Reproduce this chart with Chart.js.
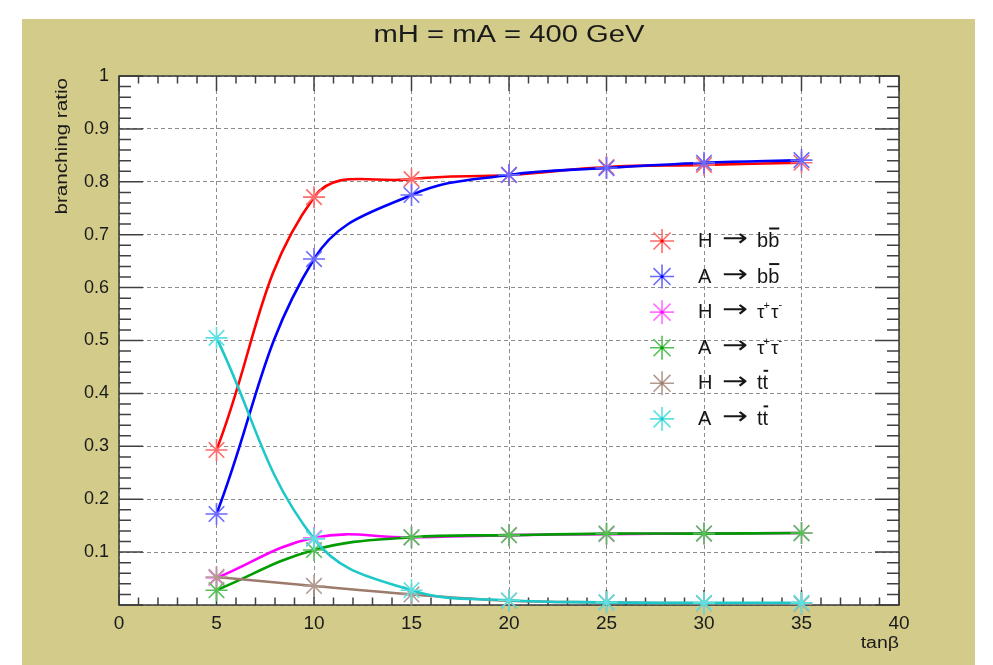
<!DOCTYPE html>
<html><head><meta charset="utf-8">
<script src="https://cdn.jsdelivr.net/npm/chart.js@4.4.1/dist/chart.umd.min.js"></script>
<style>html,body{margin:0;padding:0;background:#fff;overflow:hidden}#wrap{position:relative;width:993px;height:665px}</style>
</head><body><div id="wrap"><canvas id="c" width="993" height="665"></canvas></div>
<script>
// ---- data ----
const tanBeta   = [5, 10, 15, 20, 25, 30, 35];
const H_bb      = [0.293, 0.771, 0.805, 0.813, 0.828, 0.832, 0.836];
const A_bb      = [0.172, 0.654, 0.775, 0.813, 0.826, 0.836, 0.841];
const H_tautau  = [0.051, 0.127, 0.128, 0.132, 0.134, 0.135, 0.136];
const A_tautau  = [0.028, 0.104, 0.128, 0.132, 0.135, 0.135, 0.136];
const H_tt      = [0.053, 0.036, 0.020, 0.008, 0.005, 0.003, 0.002];
const A_tt      = [0.505, 0.125, 0.028, 0.009, 0.005, 0.004, 0.004];
const xTickValues = [0, 5, 10, 15, 20, 25, 30, 35, 40];
const xTickLabels = ['0', '5', '10', '15', '20', '25', '30', '35', '40'];
const yTickValues = [0, 0.1, 0.2, 0.3, 0.4, 0.5, 0.6, 0.7, 0.8, 0.9, 1];
const yTickLabels = ['', '0.1', '0.2', '0.3', '0.4', '0.5', '0.6', '0.7', '0.8', '0.9', '1'];
const seriesLabels = ['H \u2192 bb\u0304', 'A \u2192 bb\u0304', 'H \u2192 \u03C4\u207A\u03C4\u207B', 'A \u2192 \u03C4\u207A\u03C4\u207B', 'H \u2192 tt\u0304', 'A \u2192 tt\u0304'];
const seriesValues = [H_bb, A_bb, H_tautau, A_tautau, H_tt, A_tt];
const titleText = 'mH = mA = 400 GeV';
const xTitle = 'tan\u03B2';
const yTitle = 'branching ratio';

// ---- style ----
const FONT = '"Liberation Sans", Arial, Helvetica, sans-serif';
const lineColors = ['#ff0000', '#0000ff', '#ff00ff', '#009c00', '#9c7a6c', '#1fc8c8'];
const markColors = ['#ff6a6a', '#6a6aff', '#ff70ff', '#55c055', '#b39a90', '#5ee0e0'];
const OLIVE = '#d2cb8a';

function stretchText(ctx, str, x, y, size, sx, align) {
  ctx.save();
  ctx.font = size + 'px ' + FONT;
  const w = ctx.measureText(str).width * sx;
  const x0 = align === 'center' ? x - w / 2 : (align === 'right' ? x - w : x);
  ctx.translate(x0, y);
  ctx.scale(sx, 1);
  ctx.textAlign = 'left';
  ctx.textBaseline = 'alphabetic';
  ctx.fillText(str, 0, 0);
  ctx.restore();
}

function drawStar(ctx, x, y, r, color, lw) {
  ctx.save();
  ctx.strokeStyle = color;
  ctx.lineWidth = lw;
  ctx.beginPath();
  for (let k = 0; k < 4; k++) {
    const a = k * Math.PI / 4;
    ctx.moveTo(x - Math.cos(a) * r, y - Math.sin(a) * r);
    ctx.lineTo(x + Math.cos(a) * r, y + Math.sin(a) * r);
  }
  ctx.stroke();
  ctx.restore();
}

// draw a legend label such as "H → bb̄"
function drawLegendLabel(ctx, label, x, base) {
  const parts = label.split(' \u2192 ');
  const head = parts[0], prod = parts[1];
  ctx.save();
  ctx.fillStyle = '#161616';
  ctx.strokeStyle = '#161616';
  ctx.textAlign = 'left';
  ctx.textBaseline = 'alphabetic';
  ctx.font = '20px ' + FONT;
  ctx.fillText(head, x, base);
  // arrow
  ctx.save();
  ctx.font = '24px "DejaVu Sans", ' + FONT;
  ctx.textBaseline = 'middle';
  const aw = ctx.measureText('\u2192').width;
  ctx.translate(x + 24, base - 7);
  ctx.scale(26 / aw, 1);
  ctx.fillText('\u2192', 0, 0);
  ctx.restore();
  let px = x + 59;
  if (prod.indexOf('\u0304') >= 0) {
    const chars = prod.replace('\u0304', '');
    const c1 = chars[0], c2 = chars[1];
    ctx.font = '20px ' + FONT;
    const w1 = ctx.measureText(c1).width;
    const w2 = ctx.measureText(c2).width;
    ctx.fillText(c1, px, base);
    ctx.fillText(c2, px + w1, base);
    ctx.lineWidth = 2;
    ctx.beginPath();
    ctx.moveTo(px + w1 + 1, base - 18.5);
    ctx.lineTo(px + w1 + w2, base - 18.5);
    ctx.stroke();
  } else {
    // tau+ tau-
    ctx.font = '19px ' + FONT;
    const tw = ctx.measureText('\u03C4').width;
    ctx.fillText('\u03C4', px, base);
    ctx.font = '11px ' + FONT;
    ctx.fillText('+', px + tw - 1, base - 9);
    const pw = ctx.measureText('+').width;
    ctx.font = '19px ' + FONT;
    const p2 = px + tw + pw;
    ctx.fillText('\u03C4', p2, base);
    ctx.font = '11px ' + FONT;
    ctx.fillText('-', p2 + tw, base - 10);
  }
  ctx.restore();
}

const rootPlugin = {
  id: 'rootStyle',
  beforeDraw(chart) {
    const ctx = chart.ctx, W = chart.width, H = chart.height;
    const a = chart.chartArea;
    ctx.save();
    ctx.fillStyle = '#ffffff';
    ctx.fillRect(0, 0, W, H);
    ctx.fillStyle = OLIVE;
    ctx.fillRect(W * 0.0222, H * 0.0286, W * 0.9597, H);
    ctx.fillStyle = '#ffffff';
    ctx.fillRect(a.left, a.top, a.right - a.left, a.bottom - a.top);
    ctx.restore();
  },
  beforeDatasetsDraw(chart) {
    const ctx = chart.ctx;
    const a = chart.chartArea;
    const xs = chart.scales.x, ys = chart.scales.y;
    ctx.save();
    ctx.strokeStyle = '#404040';
    ctx.lineWidth = 1.5;
    ctx.beginPath();
    for (let i = 0; i <= 40; i++) {
      const px = xs.getPixelForValue(i);
      const len = (i % 5 === 0) ? 15 : 7.5;
      ctx.moveTo(px, a.bottom); ctx.lineTo(px, a.bottom - len);
      ctx.moveTo(px, a.top); ctx.lineTo(px, a.top + len);
    }
    for (let j = 0; j <= 50; j++) {
      const py = ys.getPixelForValue(j * 0.02);
      const len = (j % 5 === 0) ? 24 : 12;
      ctx.moveTo(a.left, py); ctx.lineTo(a.left + len, py);
      ctx.moveTo(a.right, py); ctx.lineTo(a.right - len, py);
    }
    ctx.stroke();
    ctx.strokeStyle = '#3a3a3a';
    ctx.lineWidth = 1.5;
    ctx.strokeRect(a.left, a.top, a.right - a.left, a.bottom - a.top);
    ctx.restore();
  },
  afterDraw(chart) {
    const ctx = chart.ctx, W = chart.width, H = chart.height;
    const a = chart.chartArea;
    ctx.save();
    ctx.fillStyle = '#1a1a1a';
    // title
    stretchText(ctx, titleText, (a.left + a.right) / 2, 42, 23, 1.27, 'center');
    // x title
    stretchText(ctx, xTitle, a.right, 648, 16, 1.22, 'right');
    // y title (rotated, aligned to top)
    ctx.save();
    ctx.translate(67, a.top + 2);
    ctx.rotate(-Math.PI / 2);
    stretchText(ctx, yTitle, 0, 0, 16, 1.29, 'right');
    ctx.restore();
    // legend (NDC-like position inside the pad)
    const lx = W * 0.6667, ly0 = H * 0.3624, dy = H * 0.0535;
    for (let i = 0; i < seriesLabels.length; i++) {
      const cy = ly0 + i * dy;
      drawStar(ctx, lx, cy, 12, markColors[i], 1.6);
      ctx.save();
      ctx.fillStyle = lineColors[i];
      ctx.beginPath(); ctx.arc(lx, cy, 1.6, 0, Math.PI * 2); ctx.fill();
      ctx.restore();
      drawLegendLabel(ctx, seriesLabels[i], lx + 36, cy + 6);
    }
    ctx.restore();
  }
};

const datasets = seriesValues.map((vals, i) => ({
  label: seriesLabels[i],
  data: tanBeta.map((x, k) => ({ x: x, y: vals[k] })),
  borderColor: lineColors[i],
  backgroundColor: lineColors[i],
  borderWidth: 2.6,
  tension: 0.4,
  fill: false,
  pointStyle: 'star',
  pointRadius: 11,
  pointHoverRadius: 11,
  pointBorderWidth: 1.6,
  pointBorderColor: markColors[i],
  pointBackgroundColor: markColors[i],
  clip: false,
  order: seriesValues.length - i
}));

new Chart(document.getElementById('c'), {
  type: 'line',
  data: { datasets: datasets },
  plugins: [rootPlugin],
  options: {
    responsive: false,
    animation: false,
    events: [],
    layout: { padding: { top: 76, right: 94, left: 0, bottom: 0 } },
    plugins: { legend: { display: false }, tooltip: { enabled: false }, title: { display: false } },
    scales: {
      x: {
        type: 'linear', min: 0, max: 40,
        afterBuildTicks: (s) => { s.ticks = xTickValues.map(v => ({ value: v })); },
        afterFit: (s) => { s.height = 60; },
        ticks: {
          autoSkip: false, maxRotation: 0, padding: 7, color: '#1a1a1a',
          font: { size: 19, family: FONT },
          callback: (v, i) => xTickLabels[i]
        },
        grid: { color: '#8c8c8c', lineWidth: 1, drawTicks: false },
        border: { display: false, dash: [4, 3] }
      },
      y: {
        type: 'linear', min: 0, max: 1,
        afterBuildTicks: (s) => { s.ticks = yTickValues.map(v => ({ value: v })); },
        afterFit: (s) => { s.width = 119; },
        ticks: {
          autoSkip: false, padding: 10, color: '#1a1a1a',
          font: { size: 18, family: FONT },
          callback: (v, i) => yTickLabels[i]
        },
        grid: { color: '#8c8c8c', lineWidth: 1, drawTicks: false },
        border: { display: false, dash: [4, 3] }
      }
    }
  }
});
</script>
</body></html>
